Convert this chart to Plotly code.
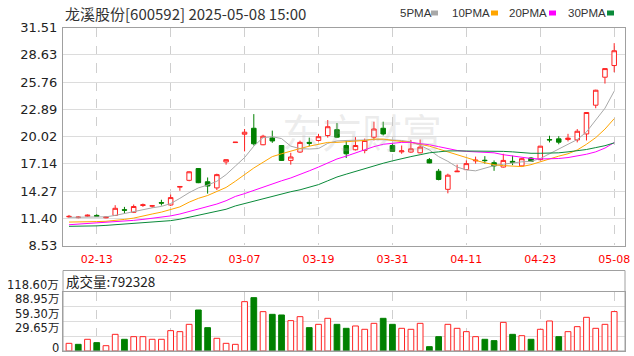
import plotly.graph_objects as go

W, H = 634, 356

# ---------------- data ----------------
dates = ["02-10", "02-11", "02-12", "02-13", "02-14", "02-17", "02-18", "02-19", "02-20", "02-21",
         "02-24", "02-25", "02-26", "02-27", "02-28", "03-03", "03-04", "03-05", "03-06", "03-07",
         "03-10", "03-11", "03-12", "03-13", "03-14", "03-17", "03-18", "03-19", "03-20", "03-21",
         "03-24", "03-25", "03-26", "03-27", "03-28", "03-31", "04-01", "04-02", "04-03", "04-07",
         "04-08", "04-09", "04-10", "04-11", "04-14", "04-15", "04-16", "04-17", "04-18", "04-21",
         "04-22", "04-23", "04-24", "04-25", "04-28", "04-29", "04-30", "05-06", "05-07", "05-08"]

open_ = [11.55, 11.47, 11.62, 11.70, 11.45, 11.70, 12.30, 12.03, 12.75, 12.68,
         13.05, 12.80, 14.68, 15.40, 16.64, 15.25, 14.60, 17.34, 19.38, 20.26,
         20.89, 19.15, 19.87, 19.07, 17.50, 18.38, 19.40, 19.60, 20.12, 20.74,
         19.07, 18.62, 18.55, 19.95, 20.89, 19.07, 18.40, 18.38, 18.30, 17.58,
         16.36, 14.45, 16.30, 16.53, 17.45, 17.52, 17.26, 16.80, 17.40, 16.92,
         17.75, 17.58, 19.70, 19.77, 19.70, 19.66, 20.29, 23.32, 26.27, 27.50]
high = [11.75, 11.62, 11.80, 11.82, 11.60, 12.78, 12.60, 12.85, 12.95, 12.80,
        13.35, 13.90, 14.78, 16.35, 16.70, 15.70, 16.10, 17.60, 19.42, 20.81,
        22.38, 20.20, 20.64, 19.10, 18.30, 19.58, 19.90, 20.30, 21.75, 21.44,
        19.60, 19.95, 19.80, 21.58, 21.58, 19.30, 19.07, 19.66, 19.70, 17.75,
        16.60, 16.10, 17.05, 17.50, 17.90, 17.95, 17.50, 18.20, 18.00, 17.75,
        17.85, 19.05, 20.10, 20.05, 20.30, 20.80, 22.60, 24.95, 27.20, 29.86]
low = [11.45, 11.40, 11.55, 11.55, 11.40, 11.65, 11.90, 11.95, 12.60, 12.50,
       12.75, 12.70, 14.30, 15.30, 15.10, 14.00, 14.37, 17.05, 19.36, 18.45,
       19.07, 19.10, 19.35, 17.45, 17.05, 18.30, 19.00, 19.50, 19.90, 19.90,
       17.75, 18.55, 18.25, 19.60, 20.13, 18.40, 18.20, 18.30, 18.25, 17.20,
       15.40, 14.03, 16.28, 16.50, 17.16, 17.16, 16.40, 16.75, 17.00, 16.85,
       17.35, 17.50, 19.40, 19.20, 19.50, 19.40, 19.60, 23.00, 25.60, 26.80]
close = [11.60, 11.52, 11.72, 11.62, 11.52, 12.45, 12.25, 12.64, 12.82, 12.72,
         13.00, 13.58, 14.75, 16.30, 15.15, 14.80, 16.00, 17.58, 19.42, 20.47,
         19.25, 20.05, 19.55, 17.50, 17.86, 19.40, 19.30, 20.00, 21.05, 19.95,
         18.20, 19.07, 19.60, 20.81, 20.29, 18.45, 18.50, 18.72, 18.90, 17.23,
         15.49, 15.94, 16.36, 17.16, 17.52, 17.48, 16.92, 17.50, 17.30, 17.68,
         17.40, 19.00, 19.66, 19.42, 19.85, 20.57, 22.55, 24.90, 27.18, 29.06]

ma5 = [11.50, 11.50, 11.55, 11.55, 11.55, 11.70, 11.90, 12.15, 12.35, 12.50,
       12.65, 12.95, 13.50, 14.10, 14.60, 14.90, 15.30, 16.00, 16.90, 17.80,
       19.00, 19.90, 20.00, 19.80, 19.00, 18.75, 18.70, 18.75, 19.30, 19.55,
       19.60, 19.60, 19.65, 19.70, 19.70, 19.65, 19.60, 19.45, 19.10, 18.60,
       17.90, 17.40, 16.80, 16.50, 16.40, 16.70, 16.95, 17.10, 17.25, 17.35,
       17.40, 17.70, 18.20, 18.70, 19.15, 19.70, 20.50, 21.70, 23.00, 24.80]
ma10 = [11.00, 11.00, 11.02, 11.05, 11.08, 11.15, 11.28, 11.42, 11.60, 11.85,
        12.05, 12.30, 12.60, 13.10, 13.50, 13.80, 14.20, 14.65, 15.30, 16.00,
        16.70, 17.30, 17.90, 18.20, 18.50, 18.75, 19.00, 19.20, 19.40, 19.40,
        19.45, 19.50, 19.60, 19.75, 19.75, 19.60, 19.50, 19.40, 19.20, 19.00,
        18.70, 18.40, 18.10, 17.75, 17.50, 17.25, 17.05, 16.95, 16.90, 16.85,
        17.05, 17.35, 17.70, 17.95, 18.20, 18.60, 19.20, 19.90, 20.80, 21.90]
ma20 = [10.72, 10.78, 10.85, 10.90, 10.95, 11.00, 11.08, 11.18, 11.28, 11.38,
        11.50, 11.65, 11.85, 12.10, 12.35, 12.60, 12.90, 13.25, 13.70, 14.00,
        14.35, 14.70, 15.05, 15.35, 15.65, 16.00, 16.40, 16.80, 17.20, 17.65,
        17.95, 18.30, 18.65, 18.95, 19.20, 19.30, 19.40, 19.40, 19.30, 19.15,
        18.95, 18.75, 18.55, 18.45, 18.40, 18.35, 18.30, 18.10, 17.95, 17.80,
        17.70, 17.65, 17.65, 17.70, 17.80, 17.95, 18.15, 18.40, 18.80, 19.38]
ma30 = [10.55, 10.55, 10.57, 10.60, 10.65, 10.72, 10.80, 10.85, 10.90, 10.97,
        11.05, 11.15, 11.30, 11.50, 11.70, 11.90, 12.10, 12.35, 12.70, 12.95,
        13.20, 13.45, 13.75, 14.00, 14.20, 14.40, 14.65, 14.95, 15.35, 15.75,
        16.05, 16.35, 16.65, 16.90, 17.20, 17.45, 17.70, 17.90, 18.10, 18.30,
        18.40, 18.50, 18.50, 18.50, 18.50, 18.48, 18.46, 18.45, 18.40, 18.30,
        18.25, 18.25, 18.25, 18.30, 18.40, 18.50, 18.65, 18.85, 19.05, 19.35]

# volume in 万 (10k) units
volume = [15.4, 13.4, 23.5, 16.8, 10.7, 33.5, 23.5, 28.8, 28.8, 23.5,
          23.5, 40.9, 38.9, 53.6, 82.4, 46.9, 25.5, 15.4, 13.4, 99.2,
          107.2, 79.1, 73.7, 72.4, 61.0, 69.0, 46.9, 53.6, 65.7, 53.6,
          45.6, 50.3, 43.6, 55.6, 65.7, 53.6, 45.6, 43.6, 55.6, 8.7,
          28.8, 53.6, 45.6, 38.9, 28.8, 23.5, 20.8, 57.6, 33.5, 30.8,
          23.5, 43.6, 60.3, 28.8, 38.9, 48.9, 67.7, 45.6, 53.6, 79.2328]
vol_up = [1, 0, 1, 0, 1, 1, 0, 1, 1, 1,
          1, 1, 1, 1, 0, 0, 1, 1, 1, 1,
          0, 1, 0, 0, 1, 1, 0, 1, 1, 0,
          0, 1, 1, 1, 0, 0, 1, 1, 1, 0,
          0, 1, 1, 1, 1, 0, 0, 1, 0, 1,
          0, 1, 1, 0, 1, 1, 1, 1, 1, 1]

tick_dates = ["02-13", "02-25", "03-07", "03-19", "03-31", "04-11", "04-23", "05-08"]
price_ticks = [31.51, 28.63, 25.76, 22.89, 20.02, 17.14, 14.27, 11.40, 8.53]
price_labels = ["31.51", "28.63", "25.76", "22.89", "20.02", "17.14", "14.27", "11.40", "8.53"]
vol_ticks = [118.60, 88.95, 59.30, 29.65, 0]
vol_labels = ["118.60万", "88.95万", "59.30万", "29.65万", "0"]

title_text = "龙溪股份[600592] 2025-05-08 15:00"
ma_names = ["5PMA", "10PMA", "20PMA", "30PMA"]
ma_colors = ["#a8a8a8", "#ffa500", "#ff00ff", "#0a8a3a"]

# ---------------- style ----------------
RED = "#ff2222"
GREEN = "#008000"
FRAME = "#a0a0a0"
HGRID = "#dcdcdc"
VGRID = "#cfcfcf"
NUMFONT = "DejaVu Sans, Noto Sans CJK SC, sans-serif"
CJKFONT = "Noto Sans CJK SC, sans-serif"


def px(x):
    return x / W


def py(y):
    return 1 - y / H


X0, X1 = 63, 625
MAIN_T, MAIN_B = 27.5, 245.5
VOL_T, VOL_B = 292.0, 351.0
VBOX_T = 270.5
step = 9.24
xr = [-(69 - X0) / step, 59 + (X1 - 614.2) / step]

fig = go.Figure()

fig.add_trace(go.Candlestick(
    x=dates, open=open_, high=high, low=low, close=close,
    increasing=dict(line=dict(color=RED, width=1), fillcolor="white"),
    decreasing=dict(line=dict(color=GREEN, width=1), fillcolor=GREEN),
    whiskerwidth=0, xaxis="x", yaxis="y", showlegend=False, hoverinfo="skip"))

for name, vals, col in zip(ma_names, [ma5, ma10, ma20, ma30], ma_colors):
    fig.add_trace(go.Scatter(x=dates, y=vals, mode="lines", name=name,
                             line=dict(color=col, width=1), xaxis="x", yaxis="y",
                             showlegend=False, hoverinfo="skip"))

fig.add_trace(go.Bar(
    x=dates, y=volume, width=0.62,
    marker=dict(color=["white" if u else GREEN for u in vol_up],
                line=dict(color=[RED if u else GREEN for u in vol_up], width=1)),
    xaxis="x2", yaxis="y2", showlegend=False, hoverinfo="skip"))

common_x = dict(type="category", range=xr, showgrid=True, gridcolor=VGRID, griddash="dash",
                gridwidth=1, tickmode="array", tickvals=tick_dates, ticktext=tick_dates,
                showline=True, mirror=True, linecolor=FRAME, linewidth=1, ticks="",
                zeroline=False, fixedrange=True, automargin=False)

fig.update_layout(
    width=W, height=H, autosize=False,
    margin=dict(l=0, r=0, t=0, b=0, pad=0),
    paper_bgcolor="white", plot_bgcolor="white",
    xaxis=dict(**common_x, domain=[px(X0), px(X1)], anchor="y",
               rangeslider=dict(visible=False),
               tickfont=dict(family=NUMFONT, size=11, color="#ff0000"),
               ticklabelstandoff=3),
    yaxis=dict(domain=[py(MAIN_B), py(MAIN_T)], range=[price_ticks[-1], price_ticks[0]],
               tickmode="array", tickvals=price_ticks, ticktext=price_labels,
               showgrid=True, gridcolor=HGRID, gridwidth=1, zeroline=False,
               showline=True, mirror=True, linecolor=FRAME, linewidth=1, ticks="",
               tickfont=dict(family=NUMFONT, size=13, color="#222222"),
               ticklabelstandoff=2, anchor="x", automargin=False, fixedrange=True),
    xaxis2=dict(**common_x, domain=[px(X0), px(X1)], anchor="y2", matches="x",
                showticklabels=False),
    yaxis2=dict(domain=[py(VOL_B), py(VOL_T)], range=[0, vol_ticks[0]],
                tickmode="array", tickvals=vol_ticks, showticklabels=False,
                showgrid=True, gridcolor=HGRID, gridwidth=1, zeroline=False,
                showline=True, mirror=True, linecolor=FRAME, linewidth=1, ticks="",
                anchor="x2", automargin=False, fixedrange=True),
    bargap=0.3,
    showlegend=False,
)

shapes = []
# volume header box
shapes.append(dict(type="rect", xref="paper", yref="paper",
                   x0=px(X0), x1=px(X1), y0=py(VOL_B), y1=py(VBOX_T),
                   line=dict(color=FRAME, width=1), fillcolor="rgba(0,0,0,0)", layer="above"))

annotations = []
# title
annotations.append(dict(xref="paper", yref="paper", x=px(63), y=py(13), xanchor="left",
                        yanchor="middle", text=title_text, showarrow=False,
                        font=dict(family=CJKFONT, size=15, color="#333333")))
# legend
leg_text_x = [398, 450, 507, 566]
leg_box_x = [431, 491, 549, 607]
for name, col, tx, bx in zip(ma_names, ma_colors, leg_text_x, leg_box_x):
    annotations.append(dict(xref="paper", yref="paper", x=px(tx), y=py(13), xanchor="left",
                            yanchor="middle", text=name, showarrow=False,
                            font=dict(family="Liberation Sans, sans-serif", size=11.5, color="#333333")))
    shapes.append(dict(type="rect", xref="paper", yref="paper",
                       x0=px(bx), x1=px(bx + 7), y0=py(15.5), y1=py(10.5),
                       line=dict(width=0), fillcolor=col))
# volume header
annotations.append(dict(xref="paper", yref="paper", x=px(64), y=py(281), xanchor="left",
                        yanchor="middle", text=f"成交量:{round(volume[-1] * 10000)}",
                        showarrow=False, font=dict(family=CJKFONT, size=13.5, color="#222222")))
# volume y labels (stacked tightly like the reference)
vol_shift = [7, 8, 8, 8, 3]
for v, lab, s in zip(vol_ticks, vol_labels, vol_shift):
    annotations.append(dict(xref="paper", yref="y2", x=px(61), y=v, xanchor="right",
                            yanchor="middle", yshift=s, text=lab, showarrow=False,
                            font=dict(family=NUMFONT, size=11.5, color="#222222")))
# faint watermark
annotations.append(dict(xref="paper", yref="paper", x=px(362), y=py(131), xanchor="center",
                        yanchor="middle", text="东方财富", showarrow=False,
                        font=dict(family=CJKFONT, size=40, color="rgba(170,170,170,0.22)")))

fig.update_layout(shapes=shapes, annotations=annotations)

fig.write_html("out.html", config={"displayModeBar": False, "staticPlot": True},
               post_script="document.body.style.margin='0';document.body.style.overflow='hidden';")
